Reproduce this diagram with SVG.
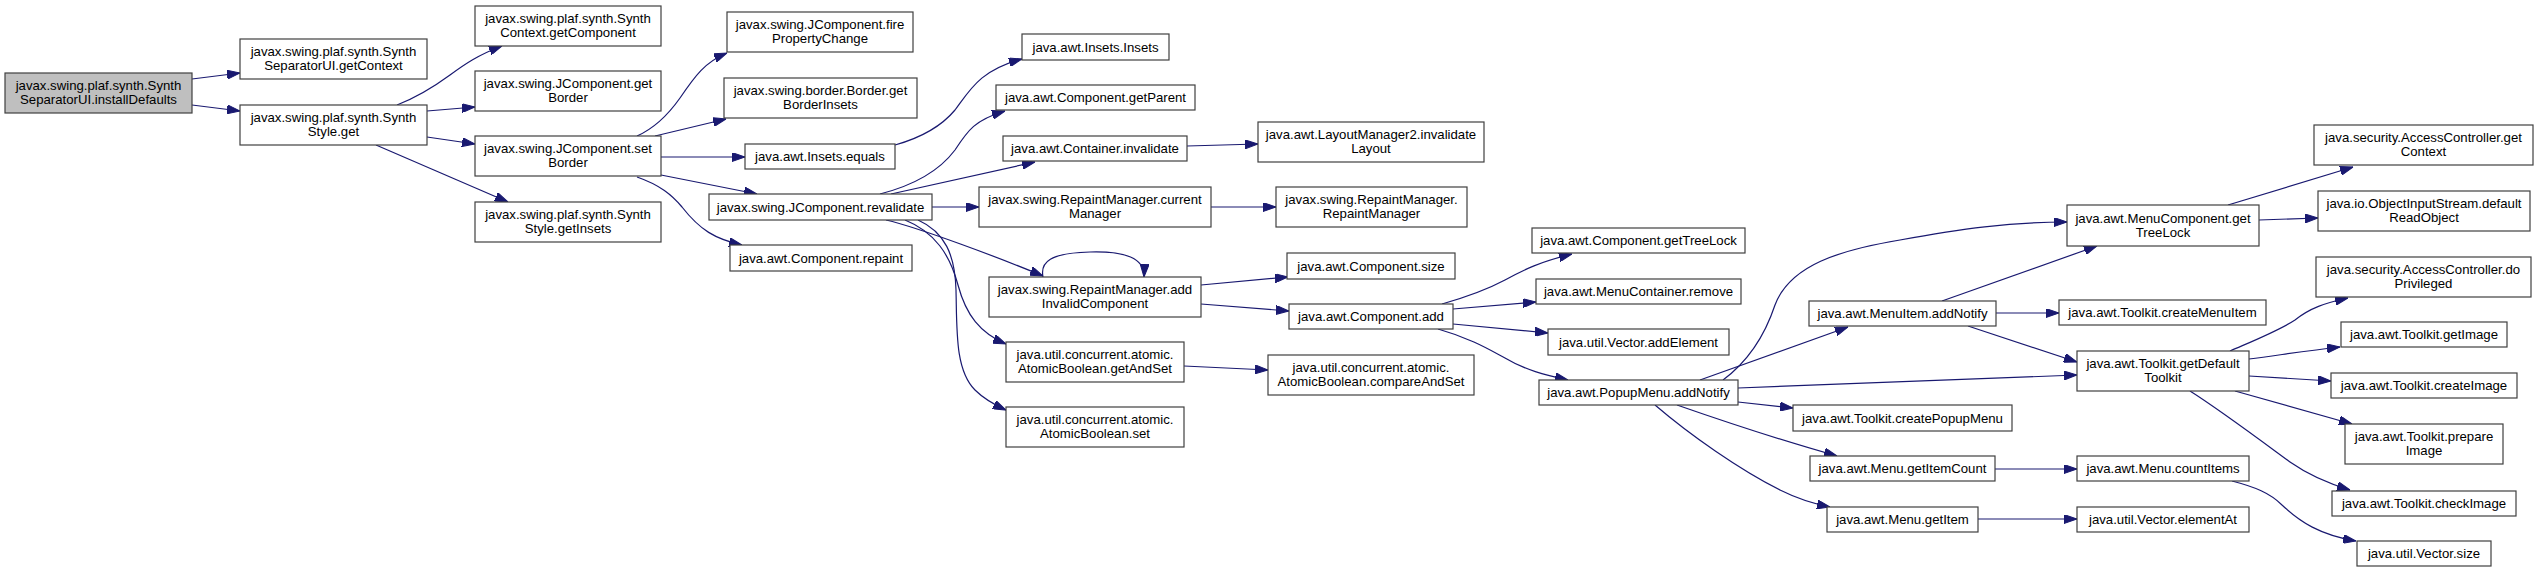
<svg xmlns="http://www.w3.org/2000/svg" width="2539" height="573" viewBox="0 0 2539 573">
<style>
.node rect{fill:#ffffff;stroke:#404040;stroke-width:1.2}
.root rect{fill:#bfbfbf;stroke:#404040;stroke-width:1.2}
text{font-family:"Liberation Sans",Arial,Helvetica,sans-serif;font-size:13.2px;text-anchor:middle;fill:#000000}
.e{fill:none;stroke:#191970;stroke-width:1.2;marker-end:url(#arr)}
</style>
<defs>
<marker id="arr" markerUnits="userSpaceOnUse" markerWidth="13" markerHeight="9" refX="13" refY="4.5" orient="auto">
<path d="M0,0 L13,4.5 L0,9 z" fill="#191970" stroke="#191970" stroke-width="1"/>
</marker>
</defs>
<rect width="2539" height="573" fill="#ffffff"/>
<g id="edges">
<path class="e" d="M192,79 L240,73"/>
<path class="e" d="M192,105 L240,111"/>
<path class="e" d="M397,105 C420,96 435,86 450,75 C465,64 478,55 502,46"/>
<path class="e" d="M427,111 L475,107"/>
<path class="e" d="M427,137 L475,144"/>
<path class="e" d="M376,145 L508,202"/>
<path class="e" d="M637,136 C655,128 668,115 680,98 C695,76 705,62 727,53"/>
<path class="e" d="M655,136 L726,119"/>
<path class="e" d="M661,157 L745,157"/>
<path class="e" d="M661,175 L757,194"/>
<path class="e" d="M637,177 C660,185 672,195 682,207 C700,230 715,239 742,245"/>
<path class="e" d="M895,145 C920,138 940,128 955,110 C970,90 980,70 1022,59"/>
<path class="e" d="M880,194 C915,185 940,170 955,150 C968,130 975,120 1005,111"/>
<path class="e" d="M891,194 L1035,162"/>
<path class="e" d="M932,207 L979,207"/>
<path class="e" d="M886,220 C920,228 1000,258 1043,276"/>
<path class="e" d="M905,220 C935,232 950,255 958,285 C966,315 980,333 1006,344"/>
<path class="e" d="M918,220 C945,232 955,255 956,290 C957,330 955,370 975,390 C985,400 995,405 1006,410"/>
<path class="e" d="M1187,146 L1258,144"/>
<path class="e" d="M1211,207 L1276,207"/>
<path class="e" d="M1043,277 C1040,262 1050,253 1090,252 C1125,251 1145,258 1144,277"/>
<path class="e" d="M1201,285 L1288,277"/>
<path class="e" d="M1201,304 L1289,311"/>
<path class="e" d="M1184,366 L1268,370"/>
<path class="e" d="M1442,304 C1470,296 1490,288 1505,280 C1525,269 1540,262 1572,254"/>
<path class="e" d="M1453,309 L1536,302"/>
<path class="e" d="M1453,324 L1548,333"/>
<path class="e" d="M1438,329 C1470,338 1490,350 1505,358 C1525,370 1545,375 1568,380"/>
<path class="e" d="M1723,380 C1750,360 1765,335 1775,305 C1790,265 1840,250 1900,240 C1960,229 2010,222 2067,222"/>
<path class="e" d="M1700,380 L1848,327"/>
<path class="e" d="M1738,388 L2077,375"/>
<path class="e" d="M1738,402 L1793,408"/>
<path class="e" d="M1677,405 C1720,420 1780,440 1837,456"/>
<path class="e" d="M1655,405 C1690,435 1740,470 1780,490 C1800,500 1815,504 1830,507"/>
<path class="e" d="M1942,301 L2097,246"/>
<path class="e" d="M1996,313 L2059,313"/>
<path class="e" d="M1968,326 L2077,362"/>
<path class="e" d="M2228,205 L2353,167"/>
<path class="e" d="M2259,220 L2318,218"/>
<path class="e" d="M2230,351 C2260,338 2280,330 2295,320 C2310,308 2325,303 2348,298"/>
<path class="e" d="M2249,359 C2280,355 2305,351 2340,347"/>
<path class="e" d="M2249,376 L2331,381"/>
<path class="e" d="M2235,391 C2270,401 2310,412 2352,424"/>
<path class="e" d="M2190,391 C2220,410 2260,440 2290,462 C2310,476 2330,484 2350,490"/>
<path class="e" d="M1995,469 L2077,469"/>
<path class="e" d="M1978,519 L2077,519"/>
<path class="e" d="M2232,481 C2255,487 2270,493 2282,505 C2300,522 2320,535 2356,541"/>
</g>
<g id="n0" class="root"><rect x="5" y="73" width="187" height="40"/><text x="98.5" y="90">javax.swing.plaf.synth.Synth</text><text x="98.5" y="104">SeparatorUI.installDefaults</text></g>
<g id="n1" class="node"><rect x="240" y="39" width="187" height="40"/><text x="333.5" y="56">javax.swing.plaf.synth.Synth</text><text x="333.5" y="70">SeparatorUI.getContext</text></g>
<g id="n2" class="node"><rect x="240" y="105" width="187" height="40"/><text x="333.5" y="122">javax.swing.plaf.synth.Synth</text><text x="333.5" y="136">Style.get</text></g>
<g id="n3" class="node"><rect x="475" y="6" width="186" height="40"/><text x="568" y="23">javax.swing.plaf.synth.Synth</text><text x="568" y="37">Context.getComponent</text></g>
<g id="n4" class="node"><rect x="475" y="71" width="186" height="40"/><text x="568" y="88">javax.swing.JComponent.get</text><text x="568" y="102">Border</text></g>
<g id="n5" class="node"><rect x="475" y="136" width="186" height="40"/><text x="568" y="153">javax.swing.JComponent.set</text><text x="568" y="167">Border</text></g>
<g id="n6" class="node"><rect x="475" y="202" width="186" height="40"/><text x="568" y="219">javax.swing.plaf.synth.Synth</text><text x="568" y="233">Style.getInsets</text></g>
<g id="n7" class="node"><rect x="727" y="12" width="186" height="40"/><text x="820" y="29">javax.swing.JComponent.fire</text><text x="820" y="43">PropertyChange</text></g>
<g id="n8" class="node"><rect x="724" y="78" width="193" height="40"/><text x="820.5" y="95">javax.swing.border.Border.get</text><text x="820.5" y="109">BorderInsets</text></g>
<g id="n9" class="node"><rect x="745" y="144" width="150" height="25"/><text x="820" y="161">java.awt.Insets.equals</text></g>
<g id="n10" class="node"><rect x="709" y="194" width="223" height="26"/><text x="820.5" y="211.5">javax.swing.JComponent.revalidate</text></g>
<g id="n11" class="node"><rect x="730" y="245" width="182" height="26"/><text x="821" y="262.5">java.awt.Component.repaint</text></g>
<g id="n12" class="node"><rect x="1022" y="34" width="147" height="26"/><text x="1095.5" y="51.5">java.awt.Insets.Insets</text></g>
<g id="n13" class="node"><rect x="996" y="85" width="199" height="25"/><text x="1095.5" y="102">java.awt.Component.getParent</text></g>
<g id="n14" class="node"><rect x="1003" y="136" width="184" height="25"/><text x="1095" y="153">java.awt.Container.invalidate</text></g>
<g id="n15" class="node"><rect x="979" y="187" width="232" height="40"/><text x="1095" y="204">javax.swing.RepaintManager.current</text><text x="1095" y="218">Manager</text></g>
<g id="n16" class="node"><rect x="989" y="277" width="212" height="40"/><text x="1095" y="294">javax.swing.RepaintManager.add</text><text x="1095" y="308">InvalidComponent</text></g>
<g id="n17" class="node"><rect x="1006" y="342" width="178" height="40"/><text x="1095" y="359">java.util.concurrent.atomic.</text><text x="1095" y="373">AtomicBoolean.getAndSet</text></g>
<g id="n18" class="node"><rect x="1006" y="407" width="178" height="40"/><text x="1095" y="424">java.util.concurrent.atomic.</text><text x="1095" y="438">AtomicBoolean.set</text></g>
<g id="n19" class="node"><rect x="1258" y="122" width="226" height="40"/><text x="1371" y="139">java.awt.LayoutManager2.invalidate</text><text x="1371" y="153">Layout</text></g>
<g id="n20" class="node"><rect x="1276" y="187" width="191" height="40"/><text x="1371.5" y="204">javax.swing.RepaintManager.</text><text x="1371.5" y="218">RepaintManager</text></g>
<g id="n21" class="node"><rect x="1287" y="253" width="168" height="26"/><text x="1371" y="270.5">java.awt.Component.size</text></g>
<g id="n22" class="node"><rect x="1289" y="304" width="164" height="25"/><text x="1371" y="321">java.awt.Component.add</text></g>
<g id="n23" class="node"><rect x="1268" y="355" width="206" height="40"/><text x="1371" y="372">java.util.concurrent.atomic.</text><text x="1371" y="386">AtomicBoolean.compareAndSet</text></g>
<g id="n24" class="node"><rect x="1532" y="228" width="213" height="25"/><text x="1638.5" y="245">java.awt.Component.getTreeLock</text></g>
<g id="n25" class="node"><rect x="1536" y="279" width="205" height="25"/><text x="1638.5" y="296">java.awt.MenuContainer.remove</text></g>
<g id="n26" class="node"><rect x="1548" y="329" width="181" height="26"/><text x="1638.5" y="346.5">java.util.Vector.addElement</text></g>
<g id="n27" class="node"><rect x="1539" y="380" width="199" height="25"/><text x="1638.5" y="397">java.awt.PopupMenu.addNotify</text></g>
<g id="n28" class="node"><rect x="1809" y="301" width="187" height="25"/><text x="1902.5" y="318">java.awt.MenuItem.addNotify</text></g>
<g id="n29" class="node"><rect x="1793" y="405" width="219" height="26"/><text x="1902.5" y="422.5">java.awt.Toolkit.createPopupMenu</text></g>
<g id="n30" class="node"><rect x="1810" y="456" width="185" height="25"/><text x="1902.5" y="473">java.awt.Menu.getItemCount</text></g>
<g id="n31" class="node"><rect x="1827" y="507" width="151" height="25"/><text x="1902.5" y="524">java.awt.Menu.getItem</text></g>
<g id="n32" class="node"><rect x="2067" y="205" width="192" height="41"/><text x="2163" y="222.5">java.awt.MenuComponent.get</text><text x="2163" y="236.5">TreeLock</text></g>
<g id="n33" class="node"><rect x="2059" y="300" width="207" height="25"/><text x="2162.5" y="317">java.awt.Toolkit.createMenuItem</text></g>
<g id="n34" class="node"><rect x="2077" y="351" width="172" height="40"/><text x="2163" y="368">java.awt.Toolkit.getDefault</text><text x="2163" y="382">Toolkit</text></g>
<g id="n35" class="node"><rect x="2077" y="456" width="172" height="25"/><text x="2163" y="473">java.awt.Menu.countItems</text></g>
<g id="n36" class="node"><rect x="2077" y="507" width="172" height="25"/><text x="2163" y="524">java.util.Vector.elementAt</text></g>
<g id="n37" class="node"><rect x="2314" y="125" width="219" height="40"/><text x="2423.5" y="142">java.security.AccessController.get</text><text x="2423.5" y="156">Context</text></g>
<g id="n38" class="node"><rect x="2318" y="191" width="212" height="40"/><text x="2424" y="208">java.io.ObjectInputStream.default</text><text x="2424" y="222">ReadObject</text></g>
<g id="n39" class="node"><rect x="2316" y="257" width="215" height="40"/><text x="2423.5" y="274">java.security.AccessController.do</text><text x="2423.5" y="288">Privileged</text></g>
<g id="n40" class="node"><rect x="2341" y="322" width="166" height="25"/><text x="2424" y="339">java.awt.Toolkit.getImage</text></g>
<g id="n41" class="node"><rect x="2331" y="373" width="186" height="25"/><text x="2424" y="390">java.awt.Toolkit.createImage</text></g>
<g id="n42" class="node"><rect x="2345" y="424" width="158" height="40"/><text x="2424" y="441">java.awt.Toolkit.prepare</text><text x="2424" y="455">Image</text></g>
<g id="n43" class="node"><rect x="2332" y="491" width="184" height="25"/><text x="2424" y="508">java.awt.Toolkit.checkImage</text></g>
<g id="n44" class="node"><rect x="2357" y="541" width="134" height="25"/><text x="2424" y="558">java.util.Vector.size</text></g>
</svg>
